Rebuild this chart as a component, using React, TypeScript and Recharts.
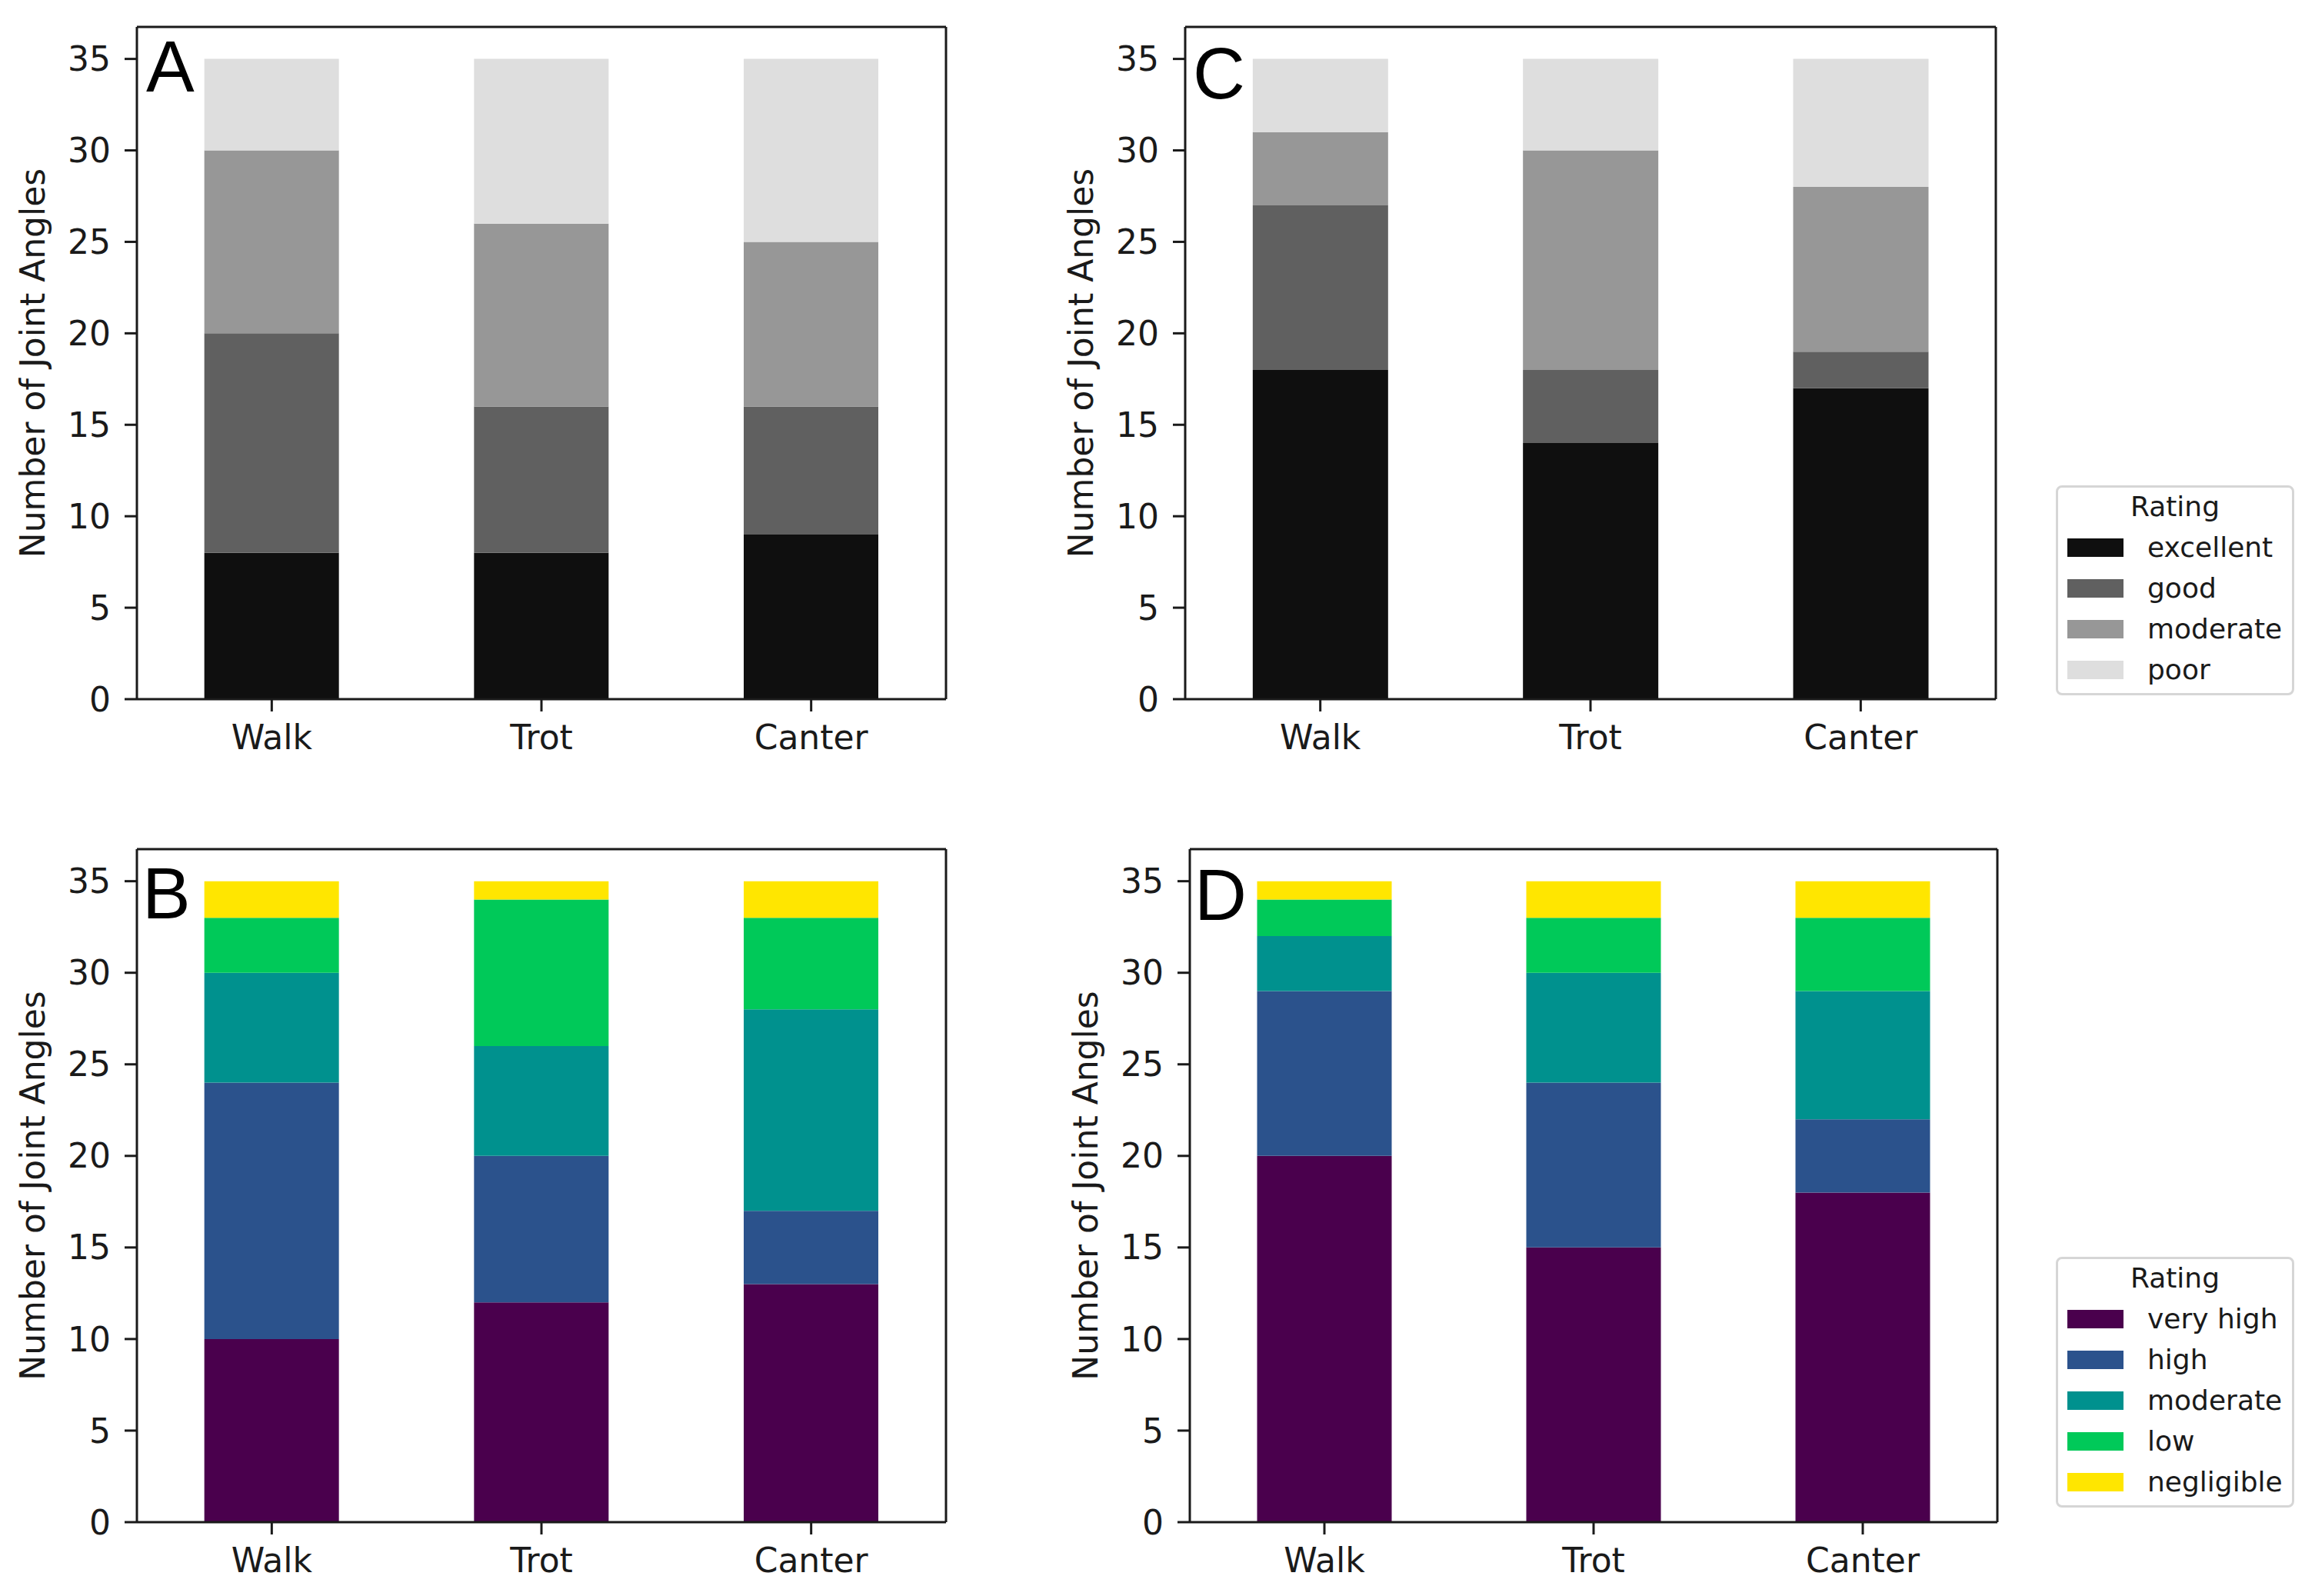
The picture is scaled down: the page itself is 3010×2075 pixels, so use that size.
import React from 'react';
import { BarChart, Bar, XAxis, YAxis, Legend } from 'recharts';

const gaits = ['Walk', 'Trot', 'Canter'];
const yTicks = [0, 5, 10, 15, 20, 25, 30, 35];

// A and C: quality ratings (greys)
const qualityLevels = ['excellent', 'good', 'moderate', 'poor'];
const qualityColors = ['#0f0f0f', '#606060', '#979797', '#dedede'];
const aExcellent = [8, 8, 9];
const aGood = [12, 8, 7];
const aModerate = [10, 10, 9];
const aPoor = [5, 9, 10];
const cExcellent = [18, 14, 17];
const cGood = [9, 4, 2];
const cModerate = [4, 12, 9];
const cPoor = [4, 5, 7];

// B and D: agreement ratings (viridis-like)
const riskLevels = ['very high', 'high', 'moderate', 'low', 'negligible'];
const riskColors = ['#4a004d', '#2b528c', '#00918e', '#00c959', '#ffe600'];
const bVeryHigh = [10, 12, 13];
const bHigh = [14, 8, 4];
const bModerate = [6, 6, 11];
const bLow = [3, 8, 5];
const bNegligible = [2, 1, 2];
const dVeryHigh = [20, 15, 18];
const dHigh = [9, 9, 4];
const dModerate = [3, 6, 7];
const dLow = [2, 3, 4];
const dNegligible = [1, 2, 2];

const INK = '#1a1a1a';
const FONT = 'DejaVu Sans, sans-serif';
const YW = 170; // y axis band
const XH = 100; // x axis band
const MT = 20;

function buildRows(levels: string[], series: number[][]) {
  return gaits.map((gait, i) => {
    const row: Record<string, any> = { gait };
    levels.forEach((lvl, k) => {
      row[lvl] = series[k][i];
    });
    return row;
  });
}

const rowsA = buildRows(qualityLevels, [aExcellent, aGood, aModerate, aPoor]);
const rowsC = buildRows(qualityLevels, [cExcellent, cGood, cModerate, cPoor]);
const rowsB = buildRows(riskLevels, [bVeryHigh, bHigh, bModerate, bLow, bNegligible]);
const rowsD = buildRows(riskLevels, [dVeryHigh, dHigh, dModerate, dLow, dNegligible]);

function makeLegend(levels: string[]) {
  return (props: any) => {
    const payload = props.payload || [];
    const items = levels
      .map((l) => payload.find((p: any) => p.value === l))
      .filter(Boolean);
    return (
      <div
        style={{
          boxSizing: 'border-box',
          width: 310,
          border: '3px solid #d6d6d6',
          borderRadius: 8,
          background: '#fff',
          padding: '7px 0 4px 12px',
          fontFamily: FONT,
          fontSize: 36,
          color: INK,
        }}
      >
        <div style={{ textAlign: 'center', lineHeight: '36px', marginBottom: 8, paddingRight: 12 }}>Rating</div>
        {items.map((it: any) => (
          <div key={it.value} style={{ display: 'flex', alignItems: 'center', height: 53 }}>
            <span style={{ display: 'inline-block', width: 73, height: 24, background: it.color, marginRight: 31 }} />
            <span style={{ lineHeight: '36px' }}>{it.value}</span>
          </div>
        ))}
      </div>
    );
  };
}

interface PanelProps {
  axLeft: number;
  axTop: number;
  axRight: number;
  axBottom: number;
  rows: Record<string, any>[];
  levels: string[];
  colors: string[];
  letter: string;
  letterX: number;
  letterY: number;
  legendAt?: { left: number; top: number };
}

function Panel({ axLeft, axTop, axRight, axBottom, rows, levels, colors, letter, letterX, letterY, legendAt }: PanelProps) {
  const chartLeft = axLeft - YW;
  const chartTop = axTop - MT;
  const mr = legendAt ? 3005 - axRight : 20;
  const width = YW + (axRight - axLeft) + mr;
  const height = MT + (axBottom - axTop) + XH;
  const axisLine = { stroke: INK, strokeWidth: 3 };
  return (
    <div style={{ position: 'absolute', left: chartLeft, top: chartTop }}>
      <BarChart
        width={width}
        height={height}
        data={rows}
        // 1px bands on top/right hold the frame axes
        margin={{ top: MT - 1, right: mr - 1, left: 0, bottom: 0 }}
        barCategoryGap="25%"
      >
        <XAxis
          dataKey="gait"
          height={XH}
          interval={0}
          tickSize={16}
          tickMargin={18}
          tick={{ fontSize: 44, fill: INK, fontFamily: FONT }}
          tickLine={{ stroke: INK, strokeWidth: 3 }}
          axisLine={axisLine}
        />
        <XAxis xAxisId="top" orientation="top" dataKey="gait" height={1} tick={false} tickLine={false} axisLine={axisLine} />
        <YAxis
          type="number"
          domain={[0, 36.75]}
          ticks={yTicks}
          width={YW}
          interval={0}
          tickSize={16}
          tickMargin={18}
          tick={{ fontSize: 44, fill: INK, fontFamily: FONT }}
          tickLine={{ stroke: INK, strokeWidth: 3 }}
          axisLine={axisLine}
          label={{
            value: 'Number of Joint Angles',
            angle: -90,
            position: 'insideLeft',
            offset: 34,
            style: { textAnchor: 'middle', fontSize: 44, fill: INK, fontFamily: FONT },
          }}
        />
        <YAxis yAxisId="right" orientation="right" width={1} domain={[0, 1]} tick={false} tickLine={false} axisLine={axisLine} />
        {levels.map((lvl, k) => (
          <Bar key={lvl} dataKey={lvl} stackId="s" fill={colors[k]} legendType="rect" isAnimationActive={false} />
        ))}
        {legendAt && (
          <Legend
            layout="vertical"
            align="center"
            verticalAlign="middle"
            wrapperStyle={{ left: legendAt.left - chartLeft, top: legendAt.top - chartTop, width: 310 }}
            content={makeLegend(levels)}
          />
        )}
        <text
          x={letterX - chartLeft}
          y={letterY - chartTop}
          fontSize={94}
          fontFamily="Liberation Sans, Arial, sans-serif"
          fill="#000"
        >
          {letter}
        </text>
      </BarChart>
    </div>
  );
}

export default function App() {
  return (
    <div
      style={{
        position: 'absolute',
        left: 0,
        top: 0,
        width: 3010,
        height: 2075,
        background: '#fff',
        fontFamily: FONT,
        overflow: 'hidden',
      }}
    >
      <Panel axLeft={178} axTop={35} axRight={1230} axBottom={909} rows={rowsA} levels={qualityLevels} colors={qualityColors} letter="A" letterX={190} letterY={119} />
      <Panel
        axLeft={1541}
        axTop={35}
        axRight={2595}
        axBottom={909}
        rows={rowsC}
        levels={qualityLevels}
        colors={qualityColors}
        letter="C"
        letterX={1551}
        letterY={128}
        legendAt={{ left: 2673, top: 631 }}
      />
      <Panel axLeft={178} axTop={1104} axRight={1230} axBottom={1979} rows={rowsB} levels={riskLevels} colors={riskColors} letter="B" letterX={185} letterY={1194} />
      <Panel
        axLeft={1547}
        axTop={1104}
        axRight={2597}
        axBottom={1979}
        rows={rowsD}
        levels={riskLevels}
        colors={riskColors}
        letter="D"
        letterX={1553}
        letterY={1196}
        legendAt={{ left: 2673, top: 1634 }}
      />
    </div>
  );
}
